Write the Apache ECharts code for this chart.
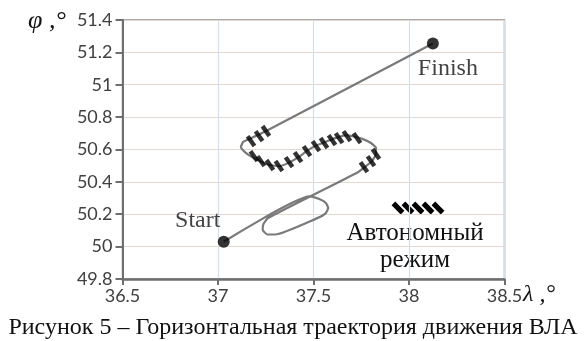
<!DOCTYPE html>
<html>
<head>
<meta charset="utf-8">
<script src="https://cdn.jsdelivr.net/npm/echarts@6/dist/echarts.min.js"></script>
<style>
  html, body { margin: 0; padding: 0; background: #ffffff; }
  #chart { width: 586px; height: 341px; }
</style>
</head>
<body>
<div id="chart"></div>
<script>
// Horizontal flight path: longitude λ (deg) and latitude φ (deg)
const trackLon = [37.03, 37.48, 37.53, 37.565, 37.577, 37.562, 37.52, 37.30, 37.257, 37.234, 37.238, 37.262,
                  37.733, 37.775, 37.806, 37.827, 37.827, 37.801, 37.759, 37.722, 37.670, 37.613, 37.560,
                  37.518, 37.471, 37.429, 37.377, 37.325, 37.272, 37.220, 37.178, 37.141, 37.120, 37.131,
                  37.162, 37.209, 37.262, 38.125];
const trackLat = [50.03, 50.31, 50.294, 50.27, 50.238, 50.204, 50.176, 50.075, 50.075, 50.105, 50.14, 50.177,
                  50.46, 50.497, 50.528, 50.572, 50.609, 50.64, 50.664, 50.677, 50.689, 50.670, 50.646,
                  50.627, 50.596, 50.559, 50.522, 50.498, 50.504, 50.528, 50.553, 50.584, 50.615, 50.646,
                  50.664, 50.689, 50.72, 51.255];

// Positions flown in autonomous mode (hatch strokes)
const autoLon = [37.173, 37.215, 37.251,
                 37.188, 37.225, 37.272, 37.319, 37.372, 37.419, 37.466, 37.513, 37.555, 37.597, 37.634, 37.675, 37.728,
                 37.827, 37.801, 37.764];
const autoLat = [50.652, 50.683, 50.714,
                 50.559, 50.528, 50.504, 50.498, 50.522, 50.553, 50.590, 50.621, 50.640, 50.658, 50.670, 50.683, 50.670,
                 50.572, 50.528, 50.491];

const startPoint = [37.03, 50.03];
const finishPoint = [38.125, 51.255];

const xTicks = [36.5, 37, 37.5, 38, 38.5];
const yTicks = [49.8, 50, 50.2, 50.4, 50.6, 50.8, 51, 51.2, 51.4];

const serif = '"Liberation Serif", "Times New Roman", serif';
const sans = 'Lato, "Open Sans", sans-serif';

const chart = echarts.init(document.getElementById('chart'), null, { renderer: 'canvas' });

// Legend key for autonomous mode: five slanted strokes
const hatchIcons = [0, 1, 2, 3, 4].map(function (k) {
  return {
    type: 'rect',
    x: 398 + 10 * k,
    y: 208,
    rotation: Math.PI / 4,
    shape: { x: -2.6, y: -6.5, width: 5.2, height: 13 },
    style: { fill: '#000000' }
  };
});

chart.setOption({
  animation: false,
  backgroundColor: '#ffffff',
  grid: {
    left: 122.5, right: 81.5, top: 20, bottom: 62,
    show: true, borderColor: '#8c8c8c', borderWidth: 1.5, backgroundColor: 'transparent'
  },
  xAxis: {
    type: 'value',
    min: xTicks[0], max: xTicks[xTicks.length - 1], interval: xTicks[1] - xTicks[0],
    axisLine: { show: true, onZero: false, lineStyle: { color: '#6f6f6f', width: 2.5 } },
    axisTick: { show: true, length: 6, lineStyle: { color: '#6f6f6f', width: 2 } },
    axisLabel: { color: '#404040', fontFamily: sans, fontSize: 18, margin: 8,
                 formatter: function (v) { return String(+v.toFixed(1)); } },
    splitLine: { show: true, lineStyle: { color: '#d3e0e8', width: 1.2 } }
  },
  yAxis: {
    type: 'value',
    min: yTicks[0], max: yTicks[yTicks.length - 1], interval: 0.2,
    axisLine: { show: true, onZero: false, lineStyle: { color: '#6f6f6f', width: 2 } },
    axisTick: { show: true, length: 7, lineStyle: { color: '#6f6f6f', width: 2 } },
    axisLabel: { color: '#404040', fontFamily: sans, fontSize: 18, margin: 10,
                 formatter: function (v) { return String(+v.toFixed(1)); } },
    splitLine: { show: true, lineStyle: { color: '#e2d9d4', width: 1.2 } }
  },
  graphic: [
    { type: 'text', left: 28, top: 8,
      style: { text: 'φ ,°', font: 'italic 26px ' + serif, fill: '#111111' } },
    { type: 'text', left: 523, top: 283,
      style: { text: 'λ ,°', font: 'italic 24px ' + serif, fill: '#111111' } },
    { type: 'group', children: hatchIcons },
    { type: 'text', x: 415, y: 246,
      style: { text: 'Автономный', font: '25px ' + serif, fill: '#111111',
               align: 'center', verticalAlign: 'bottom' } },
    { type: 'text', x: 415, y: 273,
      style: { text: 'режим', font: '25px ' + serif, fill: '#111111',
               align: 'center', verticalAlign: 'bottom' } },
    { type: 'text', x: 293, y: 340,
      style: { text: 'Рисунок 5 – Горизонтальная траектория движения ВЛА', font: '24px ' + serif,
               fill: '#111111', align: 'center', verticalAlign: 'bottom' } }
  ],
  series: [
    {
      name: 'track',
      type: 'line',
      data: trackLon.map(function (x, i) { return [x, trackLat[i]]; }),
      showSymbol: false,
      smooth: 0.15,
      lineStyle: { color: '#7a7a7a', width: 2.2 },
      z: 2
    },
    {
      name: 'autonomous',
      type: 'scatter',
      data: autoLon.map(function (x, i) { return [x, autoLat[i]]; }),
      symbol: 'rect',
      symbolSize: [4.4, 12],
      symbolRotate: 35,
      itemStyle: { color: '#000000' },
      z: 3
    },
    {
      name: 'endpoints',
      type: 'scatter',
      data: [
        { value: startPoint, label: { show: true, formatter: 'Start', position: 'top', offset: [-26, 2] } },
        { value: finishPoint, label: { show: true, formatter: 'Finish', position: 'bottom', offset: [15, 2] } }
      ],
      symbol: 'circle',
      symbolSize: 12,
      itemStyle: { color: '#000000' },
      label: { fontFamily: serif, fontSize: 24, color: '#111111' },
      z: 4
    }
  ]
});
</script>
</body>
</html>
